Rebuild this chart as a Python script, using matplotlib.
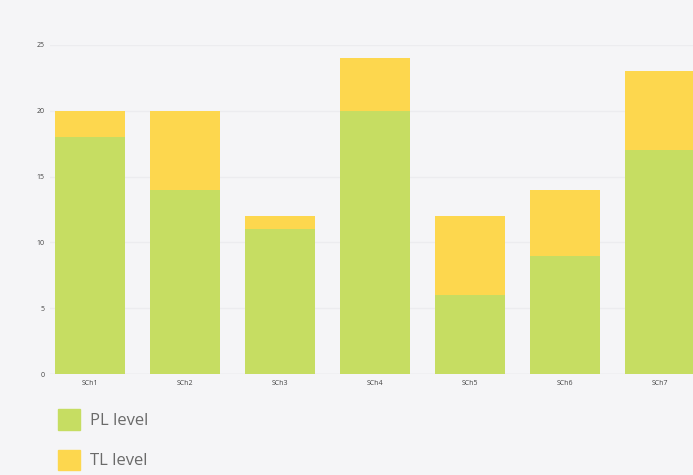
import matplotlib.pyplot as plt
from matplotlib.patches import Patch

channels = ['SCh1', 'SCh2', 'SCh3', 'SCh4', 'SCh5', 'SCh6', 'SCh7']
pl_level = [18, 14, 11, 20, 6, 9, 17]
tl_level = [2, 6, 1, 4, 6, 5, 6]

green = '#c6dd62'
yellow = '#fdd74e'
bg = '#f5f5f7'

plt.rcParams['font.family'] = ['Open Sans', 'DejaVu Sans']

fig = plt.figure(figsize=(6.93, 4.75), dpi=100, facecolor=bg)
ax = fig.add_axes([0.072, 0.2126, 0.928, 0.693])
ax.set_facecolor(bg)

x = range(len(channels))
ax.bar(x, pl_level, width=0.74, color=green, zorder=2)
ax.bar(x, tl_level, width=0.74, bottom=pl_level, color=yellow, zorder=2)

ax.set_xlim(-0.42, 6.35)
ax.set_ylim(0, 25)
ax.set_yticks([0, 5, 10, 15, 20, 25])
ax.set_xticks(list(x))
ax.set_xticklabels(channels)
ax.tick_params(axis='both', length=0, labelsize=5, colors='#444444', pad=4)
ax.yaxis.grid(True, color='#ececef', linewidth=1.0, zorder=0)
for s in ax.spines.values():
    s.set_visible(False)
ax.axhline(0, color='#e2e2e6', linewidth=1.0, zorder=1)

handles = [Patch(color=green, label='PL level'), Patch(color=yellow, label='TL level')]
fig.legend(handles=handles, loc='upper left', bbox_to_anchor=(0.062, 0.17),
           frameon=False, fontsize=12, labelcolor='#6a6a6a',
           handlelength=1.3, handleheight=1.5, labelspacing=1.2, handletextpad=0.6)

fig.savefig('out.png', dpi=100, facecolor=bg)
